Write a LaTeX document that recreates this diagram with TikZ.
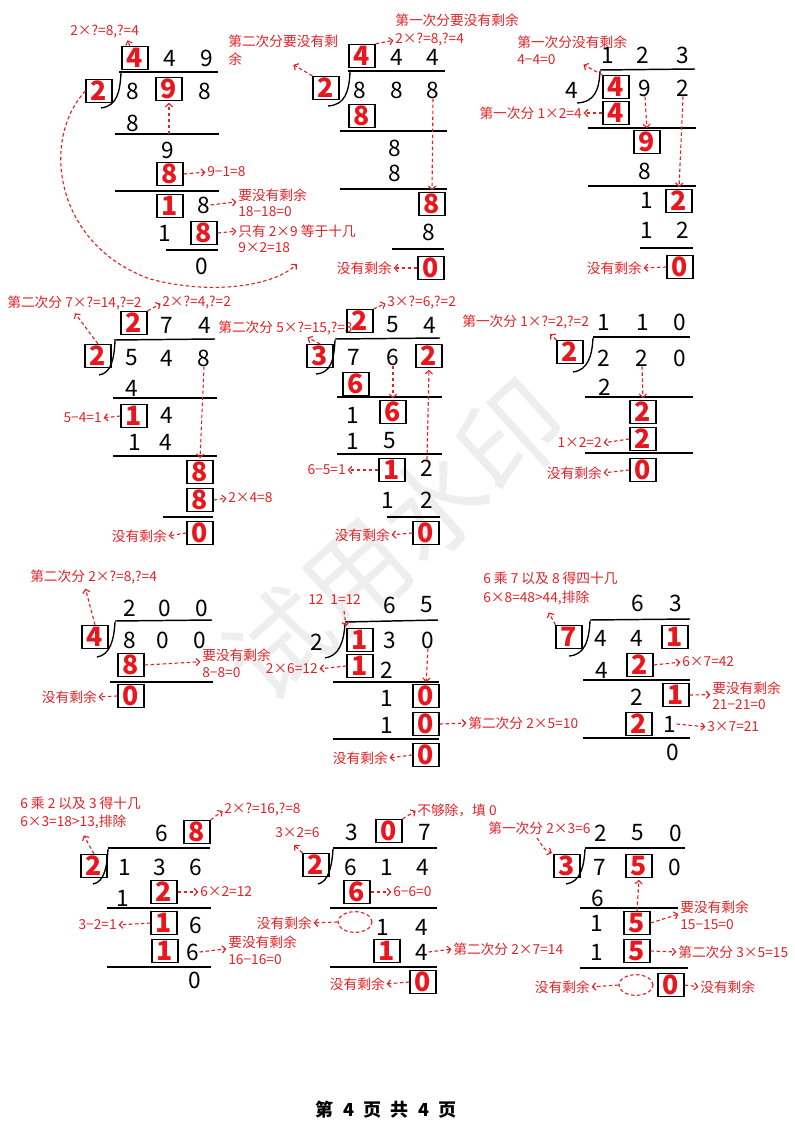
\documentclass[tikz,border=0pt]{standalone}
\usepackage{fontspec}
\setmainfont{Noto Sans CJK SC}
\usetikzlibrary{arrows.meta,shapes.geometric}
\definecolor{labred}{RGB}{226,34,38}
\definecolor{digred}{RGB}{234,22,30}
\definecolor{wmgray}{RGB}{238,238,238}
\newcommand\RD[1]{\lower1.8pt\hbox{#1}}
\tikzset{
  dg/.style={inner sep=0pt, text=black, font=\fontsize{17}{17}\selectfont},
  rb/.style={draw=black, line width=0.95pt, minimum width=19.5pt, minimum height=17.3pt, inner sep=0pt, text=digred, font=\fontsize{20}{20}\selectfont\bfseries},
  lbl/.style={inner sep=0pt, text=labred, font=\fontsize{10.3}{12}\selectfont, anchor=west},
  lbr/.style={lbl, anchor=east},
  da/.style={draw=labred, line width=0.85pt, dash pattern=on 2.6pt off 1.9pt, -{Straight Barb[length=2.6pt,width=5.5pt]}, shorten >=1.2pt},
  rl/.style={draw=black, line width=1.1pt},
  br/.style={draw=black, line width=1pt},
  el/.style={ellipse, draw=labred, line width=0.85pt, dash pattern=on 2.6pt off 1.9pt, minimum width=25.5pt, minimum height=15.5pt, inner sep=0pt}
}
\begin{document}
\begin{tikzpicture}[x=0.75pt,y=-0.75pt]
\fill[white] (0,0) rectangle (794,1123);
\useasboundingbox (0,0) rectangle (794,1123);
% watermark
\node[rotate=42, text=wmgray, font=\fontsize{78}{78}\selectfont, inner sep=0pt] (wm) at (395,540) {试用水印};

% ================= P1 =================
\node[lbl] (at1) at (70,32) {2×?=8,?=4};
\node[rb] (aq1) at (135,58) {\RD{4}};
\node[dg] (aq2) at (170,58) {4};
\node[dg] (aq3) at (207,58) {9};
\draw[da] ([xshift=-4pt]aq1.north) -- ([xshift=-6pt]aq1.north |- at1.south);
\node[rb] (adv) at (99,91) {\RD{2}};
\draw[rl] (119,72) -- (218,72);
\draw[br] (121,73) .. controls (120,92) and (117,106) .. (101,108);
\node[dg] (ad1) at (133,91) {8};
\node[rb] (ad2) at (169,89) {\RD{9}};
\node[dg] (ad3) at (205,91) {8};
\node[dg] (ar2) at (133,123) {8};
\draw[rl] (115,134) -- (219,134);
\coordinate (al1) at (169,134);
\draw[da] (al1) -- (ad2.south);
\node[dg] (ar3) at (168,150) {9};
\node[rb] (ar4) at (170,174) {\RD{8}};
\node[lbl] (at2) at (207,172) {9−1=8};
\draw[da] (ar4.east) -- (at2.west);
\draw[rl] (115,191) -- (219,191);
\node[rb] (ar5a) at (170,206) {\RD{1}};
\node[dg] (ar5b) at (204,205) {8};
\node[lbl] (at3) at (238,195) {要没有剩余};
\node[lbl] (at4) at (238,212) {18−18=0};
\draw[da] (ar5b.east) -- (at3.south west);
\node[dg] (ar6a) at (165,233) {1};
\node[rb] (ar6b) at (204,233) {\RD{8}};
\node[lbl] (at5) at (238,231) {只有 2×9 等于十几};
\node[lbl] (at6) at (238,248) {9×2=18};
\draw[da] (ar6b.east) -- (at5.west);
\draw[rl] (166,250) -- (218,250);
\node[dg] (ar7) at (202,266) {0};
\coordinate (ace) at (298,263);
\draw[da] (adv.west) .. controls (40,140) and (55,245) .. (150,279) .. controls (215,296) and (275,285) .. (ace);

% ================= P2 =================
\node[lbl] (bt1) at (395,20) {第一次分要没有剩余};
\node[lbl] (bt2) at (395,40) {2×?=8,?=4};
\node[lbl] (bt3) at (228,41) {第二次分要没有剩};
\node[lbl] (bt4) at (228,59) {余};
\node[rb] (bq1) at (362,56) {\RD{4}};
\node[dg] (bq2) at (397,57) {4};
\node[dg] (bq3) at (433,57) {4};
\draw[da] (bq1.north east) -- (bt2.west);
\node[rb] (bdv) at (326,88) {\RD{2}};
\coordinate (bca) at (292,64);
\draw[da] (bdv.north west) -- (bca);
\draw[rl] (348,71) -- (445,71);
\draw[br] (350,72) .. controls (349,92) and (345,105) .. (328,106);
\node[dg] (bd1) at (360,90) {8};
\node[dg] (bd2) at (397,90) {8};
\node[dg] (bd3) at (433,90) {8};
\node[rb] (br2) at (362,116) {\RD{8}};
\draw[rl] (340,131) -- (447,131);
\node[dg] (br3) at (395,148) {8};
\node[dg] (br4) at (395,173) {8};
\draw[rl] (340,189) -- (447,189);
\node[rb] (br5) at (432,204) {\RD{8}};
\draw[da] (bd3.south) -- (br5.north);
\node[dg] (br6) at (429,232) {8};
\draw[rl] (392,249) -- (444,249);
\node[rb] (br7) at (431,268) {\RD{0}};
\node[lbr] (bt5) at (392,268) {没有剩余};
\draw[da] (br7.west) -- (bt5.east);

% ================= P3 =================
\node[lbl] (ct1) at (517,42) {第一次分没有剩余};
\node[lbl] (ct2) at (517,60) {4−4=0};
\node[dg] (cq1) at (608,55) {1};
\node[dg] (cq2) at (643,55) {2};
\node[dg] (cq3) at (683,55) {3};
\draw[rl] (600,70) -- (695,69);
\node[dg] (cdv) at (572,90) {4};
\draw[br] (600,71) .. controls (599,90) and (595,102) .. (577,103);
\node[rb] (cd1) at (616,87) {\RD{4}};
\node[dg] (cd2) at (645,88) {9};
\node[dg] (cd3) at (683,88) {2};
\coordinate (cca) at (582,64);
\draw[da] (cd1.north west) -- (cca);
\node[rb] (cr2) at (616,113) {\RD{4}};
\node[lbr] (ct3) at (582,113) {第一次分 1×2=4};
\draw[da] (cr2.west) -- (ct3.east);
\draw[rl] (588,128) -- (696,128);
\node[rb] (cr3) at (647,142) {\RD{9}};
\draw[da] (cd2.south) -- (cr3.north);
\node[dg] (cr4) at (645,171) {8};
\draw[rl] (588,186) -- (696,186);
\node[dg] (cr5a) at (647,200) {1};
\node[rb] (cr5b) at (679,201) {\RD{2}};
\draw[da] (cd3.south) -- (cr5b.north);
\node[dg] (cr6a) at (647,230) {1};
\node[dg] (cr6b) at (683,230) {2};
\draw[rl] (640,248) -- (693,248);
\node[rb] (cr7) at (680,267) {\RD{0}};
\node[lbr] (ct4) at (642,268) {没有剩余};
\draw[da] (cr7.west) -- (ct4.east);

% ================= P4 =================
\node[lbl] (dt1) at (7,303) {第二次分 7×?=14,?=2};
\node[lbl] (dt2) at (162,303) {2×?=4,?=2};
\node[rb] (dq1) at (134,323) {\RD{2}};
\node[dg] (dq2) at (167,325) {7};
\node[dg] (dq3) at (205,325) {4};
\draw[da] (dq1.north east) -- (dt2.west);
\draw[rl] (114,340) -- (215,339);
\node[rb] (ddv) at (98,356) {\RD{2}};
\coordinate (dca) at (74,312);
\draw[da] (ddv.north) -- (dca);
\draw[br] (115,341) .. controls (114,360) and (111,373) .. (99,375);
\node[dg] (dd1) at (132,358) {5};
\node[dg] (dd2) at (167,358) {4};
\node[dg] (dd3) at (204,358) {8};
\node[dg] (dr2) at (132,388) {4};
\draw[rl] (113,398) -- (217,398);
\node[rb] (dr3a) at (134,416) {\RD{1}};
\node[dg] (dr3b) at (167,415) {4};
\node[lbr] (dt3) at (102,418) {5−4=1};
\draw[da] (dr3a.west) -- (dt3.east);
\node[dg] (dr4a) at (135,442) {1};
\node[dg] (dr4b) at (166,442) {4};
\draw[rl] (113,456) -- (217,456);
\node[rb] (dr5) at (200,472) {\RD{8}};
\draw[da] (dd3.south) -- (dr5.north);
\node[rb] (dr6) at (200,500) {\RD{8}};
\node[lbl] (dt4) at (228,498) {2×4=8};
\draw[da] (dr6.east) -- (dt4.west);
\draw[rl] (163,517) -- (213,517);
\node[rb] (dr7) at (200,533) {\RD{0}};
\node[lbr] (dt5) at (167,536) {没有剩余};
\draw[da] (dr7.west) -- (dt5.east);

% ================= P5 =================
\node[lbl] (et1) at (387,303) {3×?=6,?=2};
\node[lbl] (et2) at (218,328) {第二次分 5×?=15,?=3};
\node[rb] (eq1) at (360,321) {\RD{2}};
\node[dg] (eq2) at (393,325) {5};
\node[dg] (eq3) at (430,325) {4};
\draw[da] (eq1.north east) -- (et1.west);
\draw[rl] (335,339) -- (440,338);
\node[rb] (edv) at (320,356) {\RD{3}};
\coordinate (eca) at (306,337);
\draw[da] (edv.north) -- (eca);
\draw[br] (335,340) .. controls (334,360) and (331,373) .. (316,374);
\node[dg] (ed1) at (354,357) {7};
\node[dg] (ed2) at (393,357) {6};
\node[rb] (ed3) at (429,356) {\RD{2}};
\node[rb] (er2) at (356,384) {\RD{6}};
\draw[rl] (337,397) -- (442,397);
\node[dg] (er3a) at (353,415) {1};
\node[rb] (er3b) at (393,412) {\RD{6}};
\draw[da] (ed2.south) -- (er3b.north);
\node[dg] (er4a) at (353,441) {1};
\node[dg] (er4b) at (390,441) {5};
\draw[rl] (337,454) -- (442,454);
\node[rb] (er5a) at (392,470) {\RD{1}};
\node[dg] (er5b) at (427,468) {2};
\node[lbr] (et3) at (346,470) {6−5=1};
\draw[da] (er5a.west) -- (et3.east);
\draw[da] (er5b.north) -- (ed3.south);
\node[dg] (er6a) at (388,500) {1};
\node[dg] (er6b) at (427,500) {2};
\draw[rl] (387,517) -- (440,517);
\node[rb] (er7) at (426,533) {\RD{0}};
\node[lbr] (et4) at (390,535) {没有剩余};
\draw[da] (er7.west) -- (et4.east);

% ================= P6 =================
\node[lbl] (ft1) at (462,322) {第一次分 1×?=2,?=2};
\node[dg] (fq1) at (604,322) {1};
\node[dg] (fq2) at (643,322) {1};
\node[dg] (fq3) at (680,322) {0};
\draw[rl] (593,337) -- (690,337);
\node[rb] (fdv) at (570,352) {\RD{2}};
\coordinate (fca) at (549,333);
\draw[da] (fdv.north west) -- (fca);
\draw[br] (593,338) .. controls (592,356) and (588,370) .. (573,372);
\node[dg] (fd1) at (604,358) {2};
\node[dg] (fd2) at (642,358) {2};
\node[dg] (fd3) at (680,358) {0};
\node[dg] (fr2) at (605,387) {2};
\draw[rl] (585,397) -- (693,397);
\node[rb] (fr3) at (643,412) {\RD{2}};
\draw[da] (fd2.south) -- (fr3.north);
\node[rb] (fr4) at (643,439) {\RD{2}};
\node[lbr] (ft2) at (602,443) {1×2=2};
\draw[da] (fr4.west) -- (ft2.east);
\draw[rl] (585,453) -- (693,453);
\node[rb] (fr5) at (643,470) {\RD{0}};
\node[lbr] (ft3) at (602,473) {没有剩余};
\draw[da] (fr5.west) -- (ft3.east);

% ================= P7 =================
\node[lbl] (gt1) at (30,577) {第二次分 2×?=8,?=4};
\node[dg] (gq1) at (130,608) {2};
\node[dg] (gq2) at (165,608) {0};
\node[dg] (gq3) at (202,608) {0};
\draw[rl] (115,621) -- (212,620);
\node[rb] (gdv) at (95,637) {\RD{4}};
\coordinate (gca) at (85,587);
\draw[da] (gdv.north) -- (gca);
\draw[br] (115,622) .. controls (114,640) and (110,655) .. (97,657);
\node[dg] (gd1) at (130,640) {8};
\node[dg] (gd2) at (163,640) {0};
\node[dg] (gd3) at (200,640) {0};
\node[rb] (gr2) at (131,665) {\RD{8}};
\node[lbl] (gt2) at (202,655) {要没有剩余};
\node[lbl] (gt3) at (202,673) {8−8=0};
\draw[da] (gr2.east) -- (gt2.south west);
\draw[rl] (110,682) -- (213,682);
\node[rb] (gr3) at (131,696) {\RD{0}};
\node[lbr] (gt4) at (97,697) {没有剩余};
\draw[da] (gr3.west) -- (gt4.east);

% ================= P8 =================
\node[lbl] (ht1) at (308,600) {12\hspace{0.5em}1=12};
\node[dg] (hq1) at (390,605) {6};
\node[dg] (hq2) at (427,605) {5};
\draw[rl] (345,622) -- (438,620);
\node[dg] (hdv) at (317,642) {2};
\draw[br] (345,623) .. controls (344,642) and (339,656) .. (325,658);
\node[rb] (hd1) at (360,640) {\RD{1}};
\node[dg] (hd2) at (390,640) {3};
\node[dg] (hd3) at (428,640) {0};
\coordinate (hca) at (344,611);
\draw[da] (hca) -- (hd1.north west);
\node[rb] (hr2a) at (360,666) {\RD{1}};
\node[dg] (hr2b) at (387,670) {2};
\node[lbr] (ht2) at (318,669) {2×6=12};
\draw[da] (hr2a.west) -- (ht2.east);
\draw[rl] (333,682) -- (439,682);
\node[dg] (hr3a) at (387,698) {1};
\node[rb] (hr3b) at (426,696) {\RD{0}};
\draw[da] (hd3.south) -- (hr3b.north);
\node[dg] (hr4a) at (387,725) {1};
\node[rb] (hr4b) at (426,724) {\RD{0}};
\node[lbl] (ht3) at (468,723) {第二次分 2×5=10};
\draw[da] (hr4b.east) -- (ht3.west);
\draw[rl] (333,739) -- (439,739);
\node[rb] (hr5) at (426,755) {\RD{0}};
\node[lbr] (ht4) at (388,758) {没有剩余};
\draw[da] (hr5.west) -- (ht4.east);

% ================= P9 =================
\node[lbl] (it1) at (483,578) {6 乘 7 以及 8 得四十几};
\node[lbl] (it2) at (483,598) {6×8=48>44,排除};
\node[dg] (iq1) at (638,603) {6};
\node[dg] (iq2) at (676,603) {3};
\draw[rl] (590,620) -- (690,619);
\node[rb] (idv) at (569,637) {\RD{7}};
\coordinate (ica) at (548,611);
\draw[da] (idv.north west) -- (ica);
\draw[br] (590,621) .. controls (589,640) and (585,655) .. (569,656);
\node[dg] (id1) at (601,638) {4};
\node[dg] (id2) at (637,638) {4};
\node[rb] (id3) at (675,637) {\RD{1}};
\node[dg] (ir2a) at (602,670) {4};
\node[rb] (ir2b) at (640,665) {\RD{2}};
\node[lbl] (it3) at (682,662) {6×7=42};
\draw[da] (ir2b.east) -- (it3.west);
\draw[rl] (583,680) -- (690,680);
\node[dg] (ir3a) at (637,697) {2};
\node[rb] (ir3b) at (676,695) {\RD{1}};
\node[lbl] (it4) at (712,688) {要没有剩余};
\node[lbl] (it5) at (712,705) {21−21=0};
\draw[da] (ir3b.east) -- (it4.south west);
\node[rb] (ir4a) at (639,724) {\RD{2}};
\node[dg] (ir4b) at (670,724) {1};
\node[lbl] (it6) at (707,727) {3×7=21};
\draw[da] (ir4b.east) -- (it6.west);
\draw[rl] (583,738) -- (690,738);
\node[dg] (ir5) at (673,752) {0};

% ================= P10 =================
\node[lbl] (jt1) at (20,803) {6 乘 2 以及 3 得十几};
\node[lbl] (jt2) at (20,822) {6×3=18>13,排除};
\node[dg] (jq1) at (162,833) {6};
\node[rb] (jq2) at (197,832) {\RD{8}};
\node[lbl] (jt3) at (224,810) {2×?=16,?=8};
\draw[da] (jq2.north east) -- (jt3.west);
\draw[rl] (108,848) -- (210,848);
\node[rb] (jdv) at (94,866) {\RD{2}};
\coordinate (jca) at (83,834);
\draw[da] (jdv.north) -- (jca);
\draw[br] (108,849) .. controls (107,868) and (104,882) .. (93,884);
\node[dg] (jd1) at (125,867) {1};
\node[dg] (jd2) at (160,867) {3};
\node[dg] (jd3) at (196,867) {6};
\node[dg] (jr2a) at (123,898) {1};
\node[rb] (jr2b) at (164,892) {\RD{2}};
\node[lbl] (jt4) at (200,892) {6×2=12};
\draw[da] (jr2b.east) -- (jt4.west);
\draw[rl] (107,908) -- (211,908);
\node[rb] (jr3a) at (164,923) {\RD{1}};
\node[dg] (jr3b) at (196,925) {6};
\node[lbr] (jt5) at (117,925) {3−2=1};
\draw[da] (jr3a.west) -- (jt5.east);
\node[rb] (jr4a) at (165,951) {\RD{1}};
\node[dg] (jr4b) at (193,952) {6};
\node[lbl] (jt6) at (228,942) {要没有剩余};
\node[lbl] (jt7) at (228,960) {16−16=0};
\draw[da] (jr4b.east) -- (jt6.south west);
\draw[rl] (107,967) -- (211,967);
\node[dg] (jr5) at (195,980) {0};

% ================= P11 =================
\node[lbl] (kt1) at (275,833) {3×2=6};
\node[lbl] (kt2) at (417,810) {不够除，填 0};
\node[dg] (kq1) at (352,832) {3};
\node[rb] (kq2) at (389,831) {\RD{0}};
\node[dg] (kq3) at (425,832) {7};
\draw[da] (kq2.north east) -- (kt2.west);
\draw[rl] (333,848) -- (437,848);
\node[rb] (kdv) at (316,865) {\RD{2}};
\coordinate (kca) at (293,844);
\draw[da] (kdv.north west) -- (kca);
\draw[br] (333,849) .. controls (332,867) and (328,882) .. (318,884);
\node[dg] (kd1) at (351,867) {6};
\node[dg] (kd2) at (387,867) {1};
\node[dg] (kd3) at (423,867) {4};
\node[rb] (kr2) at (357,892) {\RD{6}};
\node[lbl] (kt3) at (393,892) {6−6=0};
\draw[da] (kr2.east) -- (kt3.west);
\draw[rl] (330,908) -- (437,908);
\node[el] (kr3a) at (355,922) {};
\node[dg] (kr3b) at (383,927) {1};
\node[dg] (kr3c) at (422,927) {4};
\node[lbr] (kt4) at (312,923) {没有剩余};
\draw[da] (kr3a.west) -- (kt4.east);
\node[rb] (kr4a) at (387,951) {\RD{1}};
\node[dg] (kr4b) at (422,952) {4};
\node[lbl] (kt5) at (453,949) {第二次分 2×7=14};
\draw[da] (kr4b.east) -- (kt5.west);
\draw[rl] (330,967) -- (437,967);
\node[rb] (kr5) at (423,982) {\RD{0}};
\node[lbr] (kt6) at (385,984) {没有剩余};
\draw[da] (kr5.west) -- (kt6.east);

% ================= P12 =================
\node[lbl] (lt1) at (488,828) {第一次分 2×3=6};
\node[dg] (lq1) at (601,833) {2};
\node[dg] (lq2) at (638,833) {5};
\node[dg] (lq3) at (676,833) {0};
\draw[rl] (585,848) -- (685,848);
\node[rb] (ldv) at (567,866) {\RD{3}};
\coordinate (lca) at (537,838);
\draw[da] (lca) .. controls (545,850) .. (ldv.north west);
\draw[br] (585,849) .. controls (584,868) and (580,882) .. (566,884);
\node[dg] (ld1) at (600,867) {7};
\node[rb] (ld2) at (639,866) {\RD{5}};
\node[dg] (ld3) at (675,867) {0};
\node[dg] (lr2) at (598,898) {6};
\draw[rl] (580,908) -- (678,908);
\node[dg] (lr3a) at (597,923) {1};
\node[rb] (lr3b) at (637,923) {\RD{5}};
\draw[da] (lr3b.north) -- (ld2.south);
\node[lbl] (lt2) at (680,907) {要没有剩余};
\node[lbl] (lt3) at (680,925) {15−15=0};
\draw[da] (lr3b.east) -- (lt2.south west);
\node[dg] (lr4a) at (597,952) {1};
\node[rb] (lr4b) at (637,951) {\RD{5}};
\node[lbl] (lt4) at (678,952) {第二次分 3×5=15};
\draw[da] (lr4b.east) -- (lt4.west);
\draw[rl] (580,968) -- (688,968);
\node[el] (lr5a) at (636,985) {};
\node[lbr] (lt5) at (590,987) {没有剩余};
\draw[da] (lr5a.west) -- (lt5.east);
\node[rb] (lr5b) at (671,985) {\RD{0}};
\node[lbl] (lt6) at (700,987) {没有剩余};
\draw[da] (lr5b.east) -- (lt6.west);

% footer
\node[inner sep=0pt, text=black, font=\fontsize{13.5}{14}\selectfont\bfseries] (foot) at (386,1110) {第\hspace{7pt}4\hspace{7pt}页\hspace{7pt}共\hspace{7pt}4\hspace{7pt}页};
\end{tikzpicture}
\end{document}
